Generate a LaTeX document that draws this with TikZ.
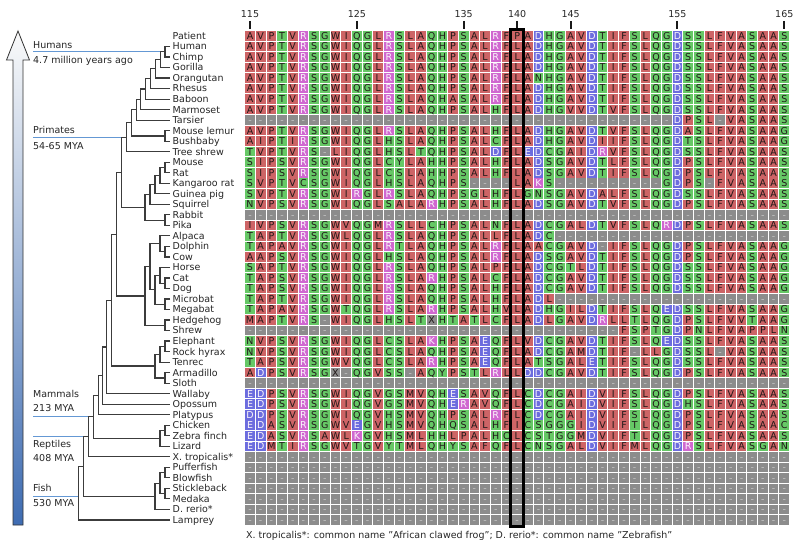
\documentclass[tikz,border=0pt]{standalone}
\usepackage{fontspec}
\setmainfont{DejaVu Sans}
\definecolor{cR}{RGB}{205,100,102}
\definecolor{cG}{RGB}{102,200,102}
\definecolor{cM}{RGB}{208,104,208}
\definecolor{cB}{RGB}{108,108,222}
\definecolor{cGap}{RGB}{140,140,140}
\definecolor{txtD}{RGB}{32,24,24}
\definecolor{txtL}{RGB}{250,245,250}
\definecolor{txtGap}{RGB}{196,196,196}
\definecolor{treec}{RGB}{60,60,60}
\definecolor{cladec}{RGB}{100,152,212}
\definecolor{arrowblue}{RGB}{62,108,178}
\definecolor{arrowmid}{RGB}{170,188,215}

\makeatletter
\def\aadef#1#2#3{\expandafter\def\csname aabg@#1\endcsname{#2}\expandafter\def\csname aafg@#1\endcsname{#3}}
\aadef A{cR}{txtD}\aadef V{cR}{txtD}\aadef L{cR}{txtD}\aadef I{cR}{txtD}
\aadef M{cR}{txtD}\aadef F{cR}{txtD}\aadef W{cR}{txtD}\aadef P{cR}{txtD}
\aadef S{cG}{txtD}\aadef T{cG}{txtD}\aadef N{cG}{txtD}\aadef Q{cG}{txtD}
\aadef G{cG}{txtD}\aadef H{cG}{txtD}\aadef C{cG}{txtD}\aadef Y{cG}{txtD}
\aadef R{cM}{txtL}\aadef K{cM}{txtL}
\aadef D{cB}{txtL}\aadef E{cB}{txtL}
\aadef X{cGap}{txtD}
\aadef -{cGap}{txtGap}
\def\Dten{----------}
\def\aarow#1#2{\pgfmathsetmacro\aay{36+(#1-1)*10.52}\def\aarowi{#1}\def\aacol{0}\edef\aa@str{#2}\expandafter\aa@next\aa@str\relax}
\def\aa@next#1{\ifx\relax#1\else\aa@cell{#1}\expandafter\aa@next\fi}
\def\aa@cell#1{%
  \edef\aabg{\csname aabg@#1\endcsname}%
  \edef\aafg{\csname aafg@#1\endcsname}%
  \pgfmathsetmacro\aax{250+\aacol*10.686}%
  \fill[fill=\aabg] (\aax-4.85,\aay-4.78) rectangle (\aax+4.85,\aay+4.78);
  \node[cellfont,text=\aafg,name=a\aarowi-\aacol] at (\aax,\aay+3.4) {#1};
  \pgfmathtruncatemacro\aacol{\aacol+1}%
}
\makeatother

\begin{document}
\begin{tikzpicture}[x=1pt,y=-1pt,
  cellfont/.style={font=\fontsize{9.5}{11}\selectfont,inner sep=0pt,anchor=base},
  lbl/.style={font=\fontsize{9.5}{11}\selectfont,inner sep=0pt,anchor=base west,text=black!85},
  numlbl/.style={font=\fontsize{9.5}{11}\selectfont,inner sep=0pt,anchor=base,text=black!85},
  tree/.style={draw=treec,line width=1.2pt},
  clade/.style={draw=cladec,line width=1.3pt},
  tickst/.style={draw=black!90,line width=2pt}]
\useasboundingbox (0,0) rectangle (800,548);
\fill[white] (0,0) rectangle (800,548);

% time arrow
\path[top color=white!96!gray,middle color=arrowmid,bottom color=arrowblue,draw=black!80,line width=0.8pt]
  (13,525) -- (13,60) -- (6.5,60) -- (18,31) -- (29.5,60) -- (23,60) -- (23,525) -- cycle;

% leaf labels and leaf coordinates
\foreach \nm [count=\i] in {Patient,Human,Chimp,Gorilla,Orangutan,Rhesus,Baboon,Marmoset,Tarsier,Mouse lemur,Bushbaby,Tree shrew,Mouse,Rat,Kangaroo rat,Guinea pig,Squirrel,Rabbit,Pika,Alpaca,Dolphin,Cow,Horse,Cat,Dog,Microbat,Megabat,Hedgehog,Shrew,Elephant,Rock hyrax,Tenrec,Armadillo,Sloth,Wallaby,Opossum,Platypus,Chicken,Zebra finch,Lizard,X. tropicalis*,Pufferfish,Blowfish,Stickleback,Medaka,D. rerio*,Lamprey}{
  \pgfmathsetmacro\yy{36+(\i-1)*10.52}
  \node[lbl] (t\i) at (172.5,\yy+3.4) {\nm};
  \coordinate (l\i) at (170,\yy);
}

% internal nodes
\coordinate (HC) at (165,51.78);
\coordinate (HCG) at (160.5,59.67);
\coordinate (HCGO) at (155.5,68.875);
\coordinate (Rh) at (150.5,78.74);
\coordinate (Ba) at (145.5,88.93);
\coordinate (Ma) at (140.8,99.285);
\coordinate (Ta) at (136.3,109.72);
\coordinate (Strep) at (165,135.94);
\coordinate (Prim) at (131.5,122.83);
\coordinate (Euarch) at (126.5,137.28);
\coordinate (MR) at (165,167.5);
\coordinate (KR) at (160,175.39);
\coordinate (GP) at (155,184.6);
\coordinate (Sq) at (150,194.46);
\coordinate (Lago) at (165,220.1);
\coordinate (Glires) at (145,207.28);
\coordinate (EuGl) at (121.7,172.28);
\coordinate (DC) at (165,251.66);
\coordinate (Cet) at (160,243.77);
\coordinate (CD) at (165,283.22);
\coordinate (HoCD) at (160,275.33);
\coordinate (Bats) at (165,304.26);
\coordinate (Sc) at (155,289.8);
\coordinate (Fereu) at (150,266.78);
\coordinate (Eul) at (165,325.3);
\coordinate (Laur) at (145,296.04);
\coordinate (Boreo) at (116.7,234.16);
\coordinate (EH) at (165,346.34);
\coordinate (Afro) at (160,354.23);
\coordinate (Xen) at (165,377.9);
\coordinate (Atl) at (155,366.07);
\coordinate (Euth) at (111.7,300.1);
\coordinate (EW) at (106.7,346.9);
\coordinate (EWO) at (102.7,375.55);
\coordinate (Mamm) at (98.3,395.1);
\coordinate (CZ) at (165,430.5);
\coordinate (Saur) at (160,438.39);
\coordinate (Amn) at (93.3,416.76);
\coordinate (Tetra) at (88.3,436.78);
\coordinate (PB) at (165,472.58);
\coordinate (SM) at (165,493.62);
\coordinate (Perc) at (160,483.1);
\coordinate (Fish) at (155,496.25);
\coordinate (Gnath) at (83.3,466.5);
\coordinate (Root) at (78.3,493.2);

% clade marker lines and labels
\coordinate (cH) at (33,51.78);
\coordinate (cP) at (33,137.28);
\coordinate (cM) at (33,416.76);
\coordinate (cRp) at (33,436.78);
\coordinate (cF) at (33,496.25);
\draw[clade] (cH) -- (HC);
\draw[clade] (cP) -- (EuGl |- Euarch);
\draw[clade] (cM) -- (Tetra |- Amn);
\draw[clade] (cRp) -- (Gnath |- Tetra);
\draw[clade] (cF) -- (Root |- Fish);
\node[lbl] (kH1) at (33,48.4) {Humans};
\node[lbl] (kH2) at (33,63.6) {4.7 million years ago};
\node[lbl] (kP1) at (33,133.6) {Primates};
\node[lbl] (kP2) at (33,150) {54-65 MYA};
\node[lbl] (kM1) at (33,397.6) {Mammals};
\node[lbl] (kM2) at (33,411.6) {213 MYA};
\node[lbl] (kR1) at (33,447.6) {Reptiles};
\node[lbl] (kR2) at (33,461.6) {408 MYA};
\node[lbl] (kF1) at (33,491.6) {Fish};
\node[lbl] (kF2) at (33,506.6) {530 MYA};

% tree
\draw[tree] (l2) -| (HC) |- (l3);
\draw[tree] (HC) -| (HCG) |- (l4);
\draw[tree] (HCG) -| (HCGO) |- (l5);
\draw[tree] (HCGO) -| (Rh) |- (l6);
\draw[tree] (Rh) -| (Ba) |- (l7);
\draw[tree] (Ba) -| (Ma) |- (l8);
\draw[tree] (Ma) -| (Ta) |- (l9);
\draw[tree] (l10) -| (Strep) |- (l11);
\draw[tree] (Ta) -| (Prim) |- (Strep);
\draw[tree] (Prim) -| (Euarch) |- (l12);
\draw[tree] (l13) -| (MR) |- (l14);
\draw[tree] (MR) -| (KR) |- (l15);
\draw[tree] (KR) -| (GP) |- (l16);
\draw[tree] (GP) -| (Sq) |- (l17);
\draw[tree] (l18) -| (Lago) |- (l19);
\draw[tree] (Sq) -| (Glires) |- (Lago);
\draw[tree] (Euarch) -| (EuGl) |- (Glires);
\draw[tree] (l21) -| (DC) |- (l22);
\draw[tree] (l20) -| (Cet) |- (DC);
\draw[tree] (l24) -| (CD) |- (l25);
\draw[tree] (l23) -| (HoCD) |- (CD);
\draw[tree] (l26) -| (Bats) |- (l27);
\draw[tree] (HoCD) -| (Sc) |- (Bats);
\draw[tree] (Cet) -| (Fereu) |- (Sc);
\draw[tree] (l28) -| (Eul) |- (l29);
\draw[tree] (Fereu) -| (Laur) |- (Eul);
\draw[tree] (EuGl) -| (Boreo) |- (Laur);
\draw[tree] (l30) -| (EH) |- (l31);
\draw[tree] (EH) -| (Afro) |- (l32);
\draw[tree] (l33) -| (Xen) |- (l34);
\draw[tree] (Afro) -| (Atl) |- (Xen);
\draw[tree] (Boreo) -| (Euth) |- (Atl);
\draw[tree] (Euth) -| (EW) |- (l35);
\draw[tree] (EW) -| (EWO) |- (l36);
\draw[tree] (EWO) -| (Mamm) |- (l37);
\draw[tree] (l38) -| (CZ) |- (l39);
\draw[tree] (CZ) -| (Saur) |- (l40);
\draw[tree] (Mamm) -| (Amn) |- (Saur);
\draw[tree] (Amn) -| (Tetra) |- (l41);
\draw[tree] (l42) -| (PB) |- (l43);
\draw[tree] (l44) -| (SM) |- (l45);
\draw[tree] (PB) -| (Perc) |- (SM);
\draw[tree] (Perc) -| (Fish) |- (l46);
\draw[tree] (Tetra) -| (Gnath) |- (Fish);
\draw[tree] (Gnath) -| (Root) |- (l47);

% position ruler
\foreach \c in {115,125,135,140,145,155,165}{
  \pgfmathsetmacro\tx{250+(\c-115)*10.686}
  \node[numlbl] (n\c) at (\tx,17.6) {\c};
  \draw[tickst] (\tx,21) -- (\tx,29);
}

% alignment
\aarow{1}{AVPTVRSGWIQGLRSLAQHPSALRFPADHGAVDTIFSLQGDSSLFVASAAS}
\aarow{2}{AVPTVRSGWIQGLRSLAQHPSALRFLADHGAVDTIFSLQGDSSLFVASAAS}
\aarow{3}{AVPTVRSGWIQGLRSLAQHPSALRFLADHGAVDTIFSLQGDSSLFVASAAS}
\aarow{4}{AVPTVRSGWIQGLRSLAQHPSALRFLADHGAVDTIFSLQGDSSLFVASAAS}
\aarow{5}{AVPTVRSGWIQGLRSLAQHPSALRFLANHGAVDTIFSLQGDSSLFVASAAS}
\aarow{6}{AVPTVRSGWIQGLRSLAQHPSALRFLADHGAVDTIFSLQGDSSLFVASAAS}
\aarow{7}{AVPTVRSGWIQGLRSLAQHASALRFLADHGAVDTIFSLQGDSSLFVASAAS}
\aarow{8}{AVPTVRSGWIQGLRSLAQHPSALHFLADHGVVDTVFSLQGDSSLFVASAAS}
\aarow{9}{\Dten\Dten\Dten\Dten DPSL-VASAAS}
\aarow{10}{AVPTVRSGWIQGLRSLAQHPSALHFLADHGAVDTVFSLQGDASLFVASAAG}
\aarow{11}{AIPTIRSGWIQGLHSLAQHPSALCFLADHGAVDIIFSLQGDTSLFVASAAG}
\aarow{12}{TVPTVRS-LIQGLHSLTQHPSALDFLEDCGAIDRVFSLQGDSSLFVASAAS}
\aarow{13}{SIPSVRSGWIQGLCYLAHHPSALHFLADSGAVDTLFSLQGDPSLFVASAAS}
\aarow{14}{SIPSVRSGWIQGLCSLAHHPSALHFLADSGAVDTIFSLQGDPSLFVASAAS}
\aarow{15}{SVPTVCSGWIQGLHSLAQHPS----LAKS\Dten GDPS-FVASAAS}
\aarow{16}{SVPTVRSGWIRGLRSLAQHPSGLHFLGNSGAVDALFSLQGDSSLFVASAAS}
\aarow{17}{NVPSVRSGWIQGLSALARHPSALHFLADSGAVDTVFSLQGDPSLFVASAAS}
\aarow{18}{\Dten\Dten\Dten\Dten\Dten -}
\aarow{19}{IVPSVRSGWVQGMRSLLCHPSALNFLADCGALDTVFSLQRDPSLFVASAAS}
\aarow{20}{TAPTVRSGWLQGLRSLAQHPSALLFLADC\Dten\Dten --}
\aarow{21}{TAPAVRSGWIQGLRTLAQHPSALRFLAACGAVD-IFSLQGDPSLFVASAAG}
\aarow{22}{AAPSVRSGWIQGLHSLAQHPSALRFLADSGAVDTIFSLQGDPSLFVASAAG}
\aarow{23}{SAPTVRSGWIQGLRSLAQHPSALPFLADCGTLDTIFSLQGDSSLFVASAAG}
\aarow{24}{TAPSVRSGWIQGLRSLARHPSALCFLADCGAVDTIFSLQGDSSLFVASAAG}
\aarow{25}{TAPSVRSGWIQGLRSLAQHPSALHFLADCGAVDTIFSLQGDSSLFVASAAG}
\aarow{26}{TAPTVRSGWIQGLRSLAQHPSALHFLADL\Dten\Dten --}
\aarow{27}{TAPAVRSGWTQGLRSLARHPSALHVLADHGILDTIFSLQEDSSLFVASAAG}
\aarow{28}{MAPTVRS-WIQGLHSLTXHTATLCFLADLGAVDRLLTLQGDPSLFVVTAAG}
\aarow{29}{\Dten\Dten\Dten -----FSPTGDPNLFVAPPLN}
\aarow{30}{NVPSVRSGWIQGLCSLAKHPSAEQFLVDCGAVDTIFSLQEDSSLFVASAAS}
\aarow{31}{NVPSVRSGWIQGLCSLAQHPSAEQFLADCGAMDTIF-LLGDSSL-VASAAS}
\aarow{32}{TAPSVRSGWVQGLCSLARHPSAEQFLATSGALETIFSLQGDSSLFVASAAS}
\aarow{33}{ADPSVRSGX-QGVSS-AQYPSTLRLLDDCGAVDTIFSLQGDPSLFVASAAS}
\aarow{34}{\Dten\Dten\Dten\Dten\Dten -}
\aarow{35}{EDPSVRSGWIQGVGSMVQHESAVQFLCDCGAIDVIFSLQGDPSLFVASAAS}
\aarow{36}{EDPSVRSGWIQGVGSMVQHERAVQFLCDCGAIDVIFSLQGDHSLFVASAAS}
\aarow{37}{DDPSVRSGWIQGVHSMVQHPSALRFLCDCGAIDVIFSLQGDPSLFVASAAS}
\aarow{38}{EDASVRSGWVEGVHSMVQHQSALHFICSGGGIDVIFTLQGDPSLFVASAAC}
\aarow{39}{EDASVRSAWLKGVHSMLHHLPALHCLCSTGGMDVIFTLQGDPSLFVASAAS}
\aarow{40}{EDMTIRSGWVTGVYTMLQHYSAFQFLCNSGALDVIFMLQGDRSLFVASGAN}
\aarow{41}{\Dten\Dten\Dten\Dten\Dten -}
\aarow{42}{\Dten\Dten\Dten\Dten\Dten -}
\aarow{43}{\Dten\Dten\Dten\Dten\Dten -}
\aarow{44}{\Dten\Dten\Dten\Dten\Dten -}
\aarow{45}{\Dten\Dten\Dten\Dten\Dten -}
\aarow{46}{\Dten\Dten\Dten\Dten\Dten -}
\aarow{47}{\Dten\Dten\Dten\Dten\Dten -}

% highlight box around position 140
\draw[black,line width=3.2pt] (510.6,29.3) rectangle (523.8,526.3);

% footnote
\node[lbl] (cap) at (246,538.8) {X. tropicalis*: common name "African clawed frog"; D. rerio*: common name "Zebrafish"};
\end{tikzpicture}
\end{document}
